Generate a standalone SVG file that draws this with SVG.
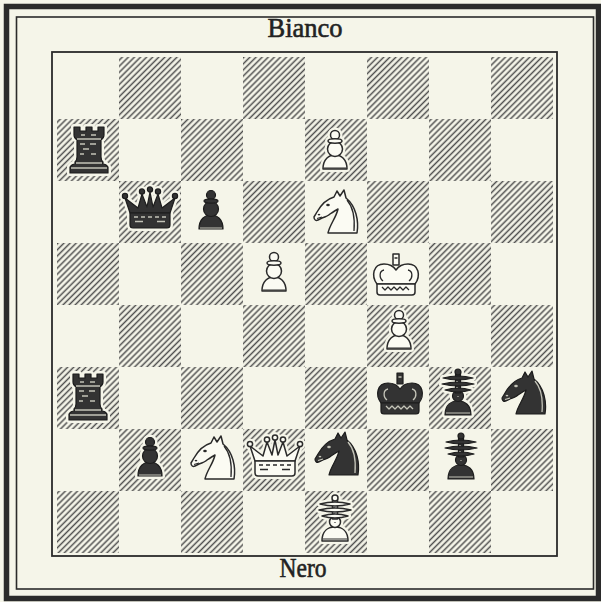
<svg xmlns="http://www.w3.org/2000/svg" xmlns:xlink="http://www.w3.org/1999/xlink" width="601" height="602" viewBox="0 0 601 602">
  <style>
    .paper { fill: #f5f5e9; }
    .frame { fill: none; stroke: #2b2b2b; }
    .dark { fill: url(#hatch); }
    .label { font-family: "Liberation Serif", "DejaVu Serif", serif; font-size: 27px; fill: #222; stroke: #222; stroke-width: 0.6; text-anchor: middle; }
    .halo { fill: #f5f5e9; stroke: #f5f5e9; stroke-width: 6; stroke-linejoin: round; color: #f5f5e9; }
    .w { fill: #fbfbf3; stroke: #2a2a2a; stroke-width: 1.5; stroke-linejoin: round; color: #2a2a2a; }
    .b { fill: #333333; stroke: #1c1c1c; stroke-width: 1.2; stroke-linejoin: round; color: #c4c4b8; }
  </style>
  <defs>
    <pattern id="hatch" patternUnits="userSpaceOnUse" width="4.3" height="4.3" patternTransform="rotate(45)">
      <line x1="2.15" y1="0" x2="2.15" y2="4.3" stroke="#4f4f4f" stroke-width="1.5"/>
    </pattern>

    <!-- rook: tower with brick courses -->
    <g id="rook">
      <path d="M -19 23 L 19 23 L 19 17 Q 17 14 14 14 L 14 12 Q 12 10 12 7 L 12 -10 Q 15 -12 15 -15 L 15 -23 L 9 -23 L 9 -19 L 3 -19 L 3 -23 L -3 -23 L -3 -19 L -9 -19 L -9 -23 L -15 -23 L -15 -15 Q -15 -12 -12 -10 L -12 7 Q -12 10 -14 12 L -14 14 Q -17 14 -19 17 Z"/>
      <g fill="none" stroke="currentColor" stroke-width="1.4">
        <path d="M -12 -11 H 12 M -8 -15 h 4 M 2 -15 h 5 M -9 -6 h 5 M 1 -6 h 6 M -6 -1 h 6 M -9 4 h 4 M 2 4 h 5 M -13 13 H 13 M -18 18 H 18"/>
      </g>
    </g>

    <!-- pawn -->
    <g id="pawn">
      <path d="M -12 19 C -12 9 -6 5 0 5 C 6 5 12 9 12 19 Z"/>
      <circle cx="0" cy="-1" r="7.5"/>
      <circle cx="0" cy="-15" r="4.5"/>
      <ellipse cx="0" cy="-9" rx="7" ry="2.2"/>
      <path d="M -11 18 H 11" fill="none" stroke="currentColor" stroke-width="1"/>
    </g>

    <!-- knight, facing left -->
    <g id="knight">
      <path d="M -8 21 L 21 21 C 23 9 20 -6 10 -14 L 8 -22 L 4 -16 L 1 -21 L -2 -15 C -9 -13 -15 -7 -19 0 L -22 5 C -22 8 -20 9 -18 8 L -14 6 C -11 5 -8 4 -6 2 C -3 0 0 -2 2 -3 C 0 6 -6 12 -8 21 Z"/>
      <ellipse cx="-8" cy="-7" rx="1.8" ry="1.2" fill="currentColor" stroke="none"/>
      <path d="M -18 3 q 1 -1 2 0 M -19 6.5 L -14 5 M 11 -12 C 17 -5 19 7 18 19" fill="none" stroke="currentColor" stroke-width="1.3"/>
    </g>

    <!-- queen: five-pointed crown on a band -->
    <g id="queen">
      <path d="M -20 3 L -25 -12 L -12 -2 L -8 -16 L -3 -3 L 0 -18 L 3 -3 L 8 -16 L 12 -2 L 25 -12 L 20 3 Z"/>
      <path d="M -20 3 H 20 V 15 Q 20 18 17 18 H -17 Q -20 18 -20 15 Z"/>
      <circle cx="-25" cy="-14" r="2.6"/>
      <circle cx="-8" cy="-18.5" r="2.6"/>
      <circle cx="0" cy="-20.5" r="2.6"/>
      <circle cx="8" cy="-18.5" r="2.6"/>
      <circle cx="25" cy="-14" r="2.6"/>
      <path d="M -16 7 h 4 M -9 7 h 4 M -2 7 h 4 M 5 7 h 4 M 12 7 h 4 M -15 11.5 h 8 M 7 11.5 h 8" fill="none" stroke="currentColor" stroke-width="1.4"/>
    </g>

    <!-- king: arched crown with cross -->
    <g id="king">
      <path d="M -3 -22 H 3 V -11 H -3 Z"/>
      <path d="M -19 8 C -25 0 -23 -12 -12 -12 C -6 -12 -2 -9 0 -6 C 2 -9 6 -12 12 -12 C 23 -12 25 0 19 8 Z"/>
      <path d="M -19 8 H 19 V 16 Q 19 19 16 19 H -16 Q -19 19 -19 16 Z"/>
      <path d="M -12 -6 C -17 -5 -17 2 -13 5 M 12 -6 C 17 -5 17 2 13 5 M -14 11 l 3 3 l 3 -3 l 3 3 l 3 -3 l 3 3 l 3 -3 l 3 3 l 3 -3 l 3 3 M -1.5 -18 h 3" fill="none" stroke="currentColor" stroke-width="1.3"/>
    </g>

    <!-- bishop: tiered plates over a domed foot -->
    <g id="bishop">
      <path d="M -13 22 C -13 12 -7 8 0 8 C 7 8 13 12 13 22 Z"/>
      <circle cx="0" cy="3" r="5.5"/>
      <path d="M -2.5 -19 H 2.5 V 0 H -2.5 Z"/>
      <path d="M -13 -3 Q 0 -7 13 -3 Q 0 1 -13 -3 Z"/>
      <path d="M -16 -9 Q 0 -13 16 -9 Q 0 -5 -16 -9 Z"/>
      <path d="M -15 -15 Q 0 -19 15 -15 Q 0 -11 -15 -15 Z"/>
      <circle cx="0" cy="-21" r="3"/>
      <path d="M -12 20 H 12 M -1 -12 v 1 M -1 -6 v 1 M 0 3 v 1" fill="none" stroke="currentColor" stroke-width="1.1"/>
    </g>
  </defs>

  <rect class="paper" x="0" y="0" width="601" height="602"/>

  <!-- frames -->
  <g id="frame">
    <rect class="frame" x="6.5" y="6.5" width="592" height="592" stroke-width="5.5"/>
    <rect class="frame" x="16.5" y="17" width="577" height="572" stroke-width="1.6"/>
    <rect class="frame" x="52" y="52" width="505" height="504" stroke-width="1.8"/>
  </g>

  <!-- hatched squares: (row + col) odd -->
  <g id="squares">
    <rect class="dark" x="119" y="57" width="62" height="62"/>
    <rect class="dark" x="243" y="57" width="62" height="62"/>
    <rect class="dark" x="367" y="57" width="62" height="62"/>
    <rect class="dark" x="491" y="57" width="62" height="62"/>
    <rect class="dark" x="57" y="119" width="62" height="62"/>
    <rect class="dark" x="181" y="119" width="62" height="62"/>
    <rect class="dark" x="305" y="119" width="62" height="62"/>
    <rect class="dark" x="429" y="119" width="62" height="62"/>
    <rect class="dark" x="119" y="181" width="62" height="62"/>
    <rect class="dark" x="243" y="181" width="62" height="62"/>
    <rect class="dark" x="367" y="181" width="62" height="62"/>
    <rect class="dark" x="491" y="181" width="62" height="62"/>
    <rect class="dark" x="57" y="243" width="62" height="62"/>
    <rect class="dark" x="181" y="243" width="62" height="62"/>
    <rect class="dark" x="305" y="243" width="62" height="62"/>
    <rect class="dark" x="429" y="243" width="62" height="62"/>
    <rect class="dark" x="119" y="305" width="62" height="62"/>
    <rect class="dark" x="243" y="305" width="62" height="62"/>
    <rect class="dark" x="367" y="305" width="62" height="62"/>
    <rect class="dark" x="491" y="305" width="62" height="62"/>
    <rect class="dark" x="57" y="367" width="62" height="62"/>
    <rect class="dark" x="181" y="367" width="62" height="62"/>
    <rect class="dark" x="305" y="367" width="62" height="62"/>
    <rect class="dark" x="429" y="367" width="62" height="62"/>
    <rect class="dark" x="119" y="429" width="62" height="62"/>
    <rect class="dark" x="243" y="429" width="62" height="62"/>
    <rect class="dark" x="367" y="429" width="62" height="62"/>
    <rect class="dark" x="491" y="429" width="62" height="62"/>
    <rect class="dark" x="57" y="491" width="62" height="62"/>
    <rect class="dark" x="181" y="491" width="62" height="62"/>
    <rect class="dark" x="305" y="491" width="62" height="62"/>
    <rect class="dark" x="429" y="491" width="62" height="62"/>
  </g>

  <text class="label" x="305" y="37" textLength="75" lengthAdjust="spacingAndGlyphs">Bianco</text>
  <text class="label" x="303" y="577" textLength="47" lengthAdjust="spacingAndGlyphs">Nero</text>

  <!-- pieces -->
  <g id="rook-black-1" transform="translate(89,150)"><use href="#rook" class="halo"/><use href="#rook" class="b"/></g>
  <g id="pawn-white-1" transform="translate(335,150)"><use href="#pawn" class="halo"/><use href="#pawn" class="w"/></g>
  <g id="queen-black" transform="translate(150,210)"><use href="#queen" class="halo"/><use href="#queen" class="b"/></g>
  <g id="pawn-black-1" transform="translate(211,210)"><use href="#pawn" class="halo"/><use href="#pawn" class="b"/></g>
  <g id="knight-white-1" transform="translate(336,212)"><use href="#knight" class="halo"/><use href="#knight" class="w"/></g>
  <g id="pawn-white-2" transform="translate(274,272)"><use href="#pawn" class="halo"/><use href="#pawn" class="w"/></g>
  <g id="king-white" transform="translate(396,276)"><use href="#king" class="halo"/><use href="#king" class="w"/></g>
  <g id="pawn-white-3" transform="translate(399,330)"><use href="#pawn" class="halo"/><use href="#pawn" class="w"/></g>
  <g id="rook-black-2" transform="translate(88,397)"><use href="#rook" class="halo"/><use href="#rook" class="b"/></g>
  <g id="king-black" transform="translate(400,395)"><use href="#king" class="halo"/><use href="#king" class="b"/></g>
  <g id="bishop-black-1" transform="translate(458,393)"><use href="#bishop" class="halo"/><use href="#bishop" class="b"/></g>
  <g id="knight-black-1" transform="translate(524,393)"><use href="#knight" class="halo"/><use href="#knight" class="b"/></g>
  <g id="pawn-black-2" transform="translate(150,457)"><use href="#pawn" class="halo"/><use href="#pawn" class="b"/></g>
  <g id="knight-white-2" transform="translate(213,458)"><use href="#knight" class="halo"/><use href="#knight" class="w"/></g>
  <g id="queen-white" transform="translate(275,458)"><use href="#queen" class="halo"/><use href="#queen" class="w"/></g>
  <g id="knight-black-2" transform="translate(337,454)"><use href="#knight" class="halo"/><use href="#knight" class="b"/></g>
  <g id="bishop-black-2" transform="translate(461,457)"><use href="#bishop" class="halo"/><use href="#bishop" class="b"/></g>
  <g id="bishop-white" transform="translate(335,519)"><use href="#bishop" class="halo"/><use href="#bishop" class="w"/></g>
</svg>
